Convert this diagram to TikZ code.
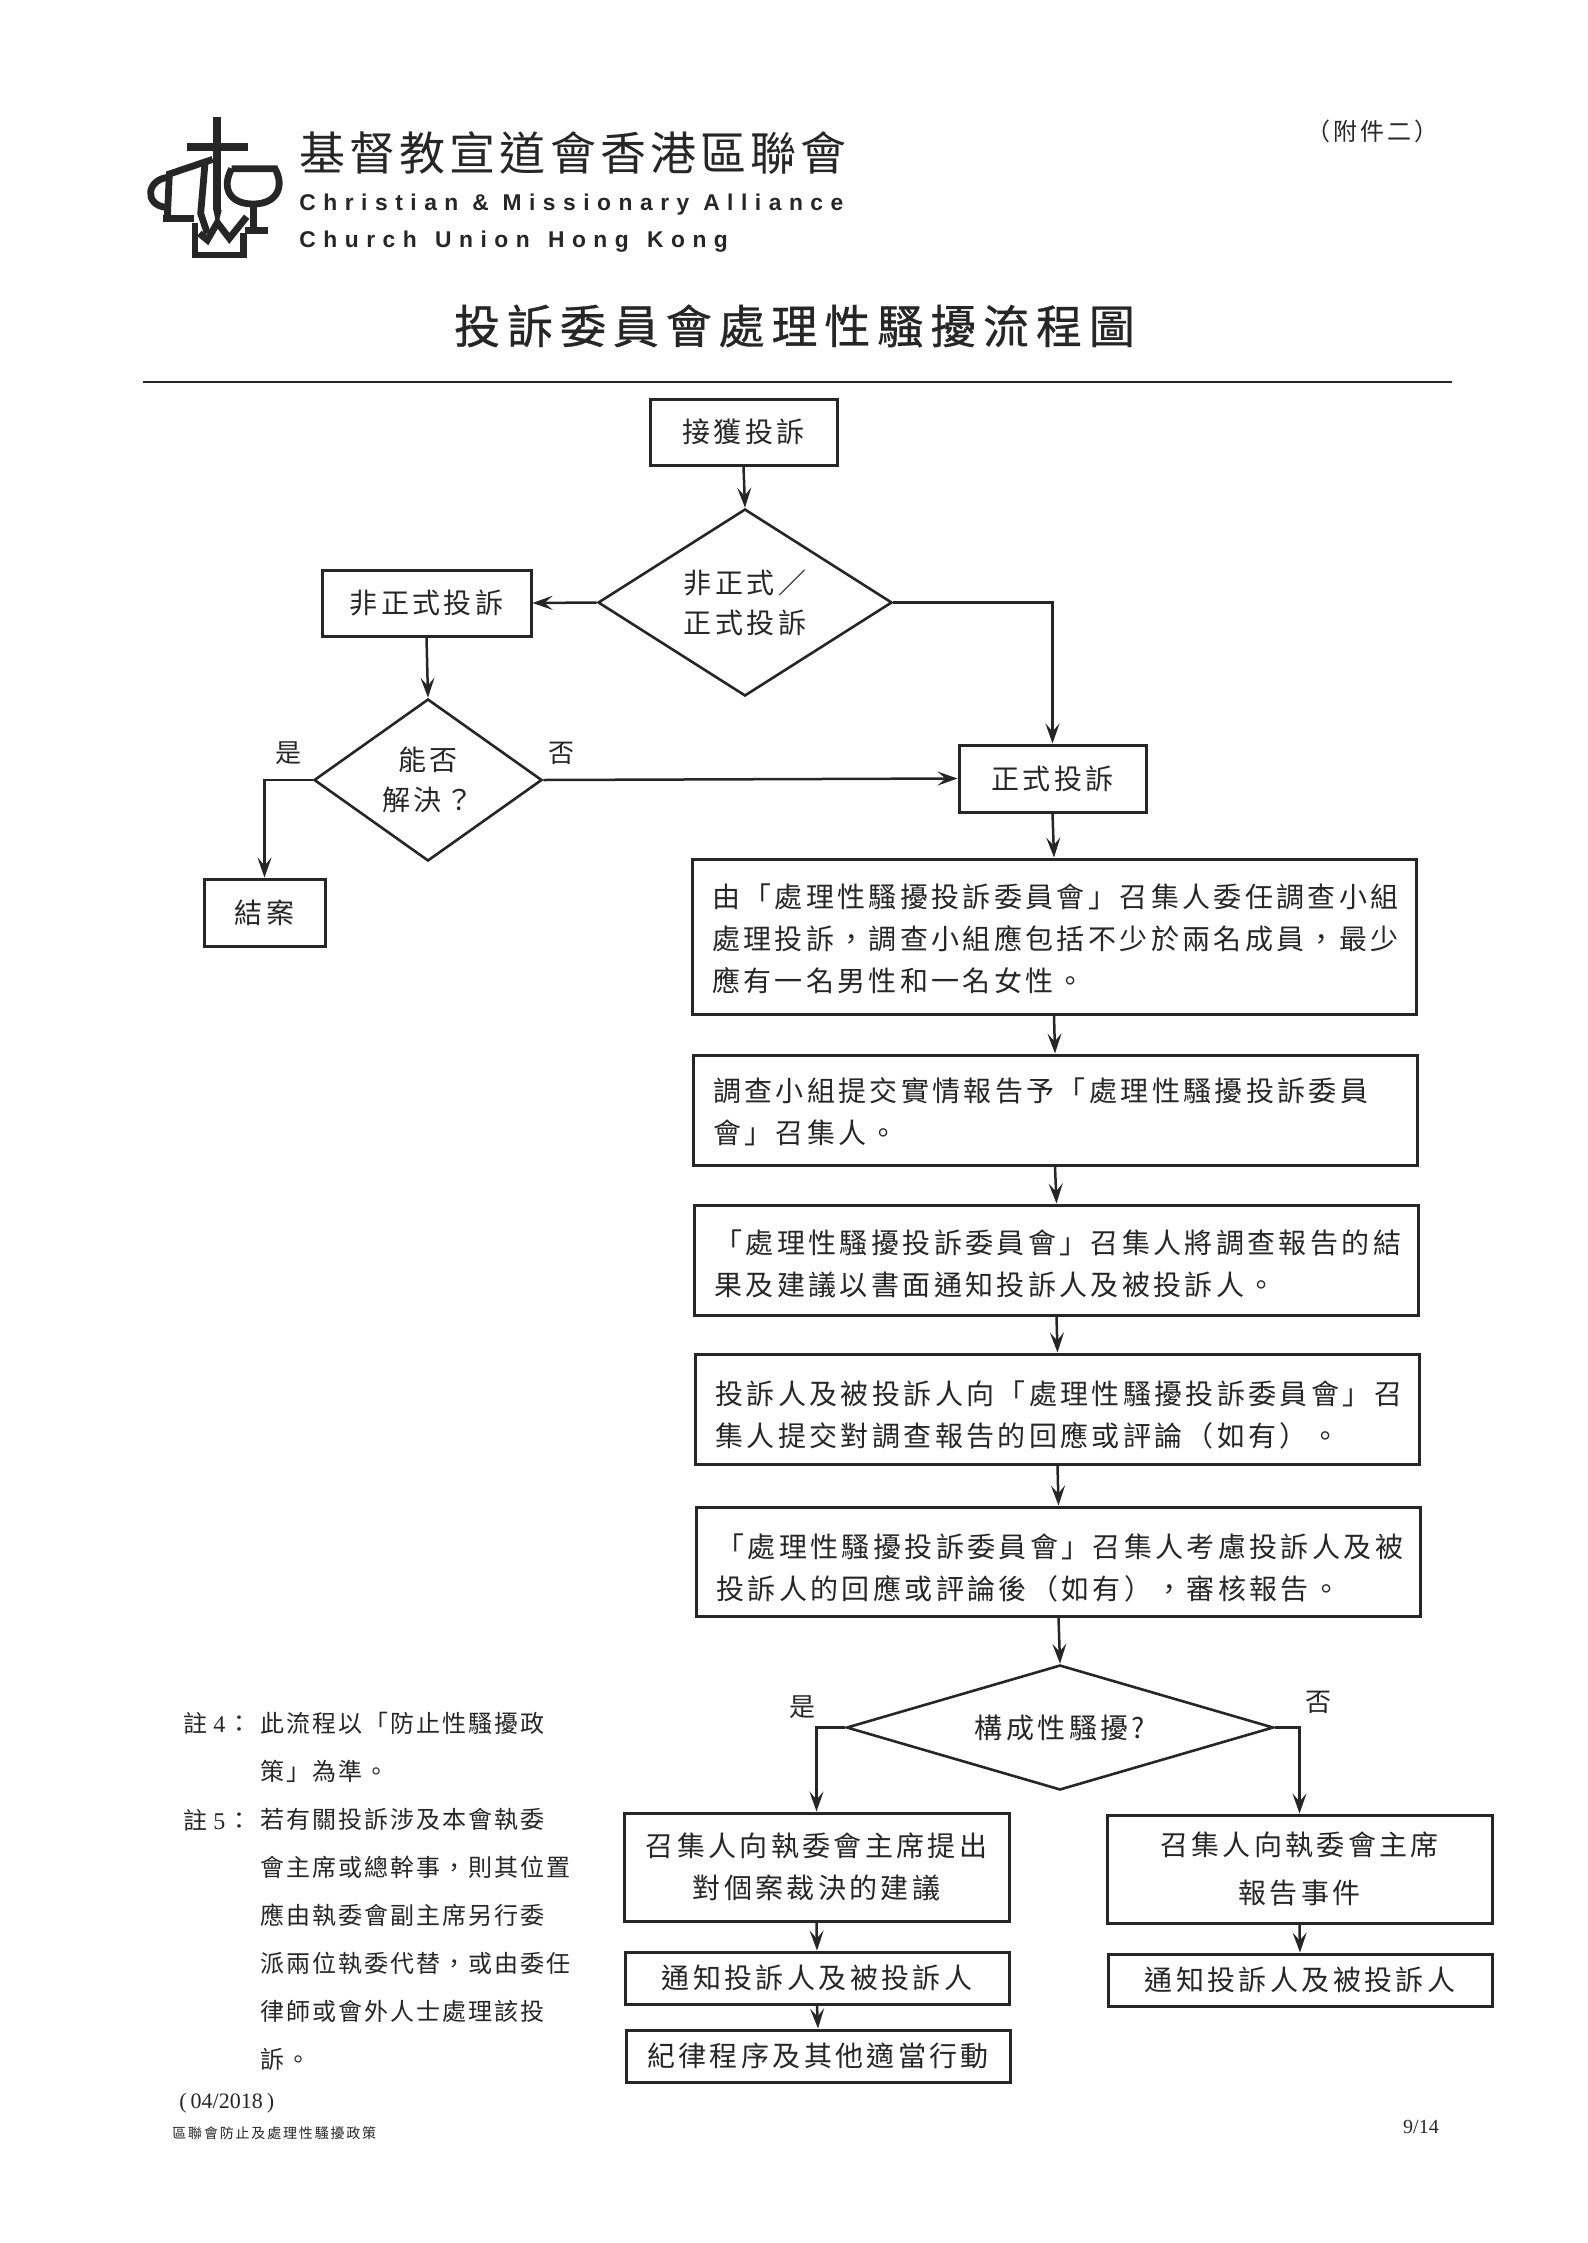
\documentclass[tikz,border=0pt]{standalone}
\usepackage{fontspec}
\setmainfont{Noto Sans CJK TC}
\newfontfamily\boxcjk[LetterSpace=12]{Noto Sans CJK TC}
\newfontfamily\notecjk[LetterSpace=8.3]{Noto Sans CJK TC}
\newfontfamily\titlecjk[LetterSpace=15,FakeBold=0.7]{Noto Sans CJK TC}
\newfontfamily\footcjk[LetterSpace=13]{Noto Sans CJK TC}
\newfontfamily\logocjk[LetterSpace=9]{Noto Sans CJK TC}
\newfontfamily\annexcjk[LetterSpace=12.5]{Noto Sans CJK TC}
\newfontfamily\logolatin[LetterSpace=33]{Liberation Sans}
\newfontfamily\timesnum{Liberation Serif}
\usetikzlibrary{arrows.meta,shapes.geometric}
\definecolor{ink}{HTML}{262626}
\newcommand\wcomma{\char"FF0C\relax}
\newcommand\wopen{\char"FF08\relax}
\newcommand\wclose{\char"FF09\relax}
\newcommand\wslash{\char"FF0F\relax}
\newcommand\wask{\char"FF1F\relax}
\newcommand\wcolon{\char"FF1A\relax}
\newcommand\topgap[1]{\rule{0pt}{#1}}
\tikzset{
  boxtext/.style={font=\boxcjk\fontsize{14}{21}\selectfont,text=ink},
  flowbox/.style={draw=ink,line width=1.5pt,inner sep=0pt,align=center,boxtext},
  longbox/.style={flowbox,align=left,text width=342pt,inner xsep=10pt},
  decision/.style={draw=ink,line width=1.3pt,diamond,inner sep=0pt,align=center,boxtext},
  answer/.style={font=\boxcjk\fontsize{13}{16}\selectfont,text=ink,inner sep=0pt},
  notetext/.style={font=\notecjk\fontsize{12}{24}\selectfont,text=ink,inner sep=0pt,align=left,anchor=west},
  link/.style={draw=ink,line width=1.25pt,-{Stealth[length=10pt,width=7pt,inset=4pt]}},
  logoline/.style={draw=ink,line width=3.4pt,line join=miter}
}
\begin{document}
\begin{tikzpicture}[x=0.5pt,y=-0.5pt]
\useasboundingbox (0,0) rectangle (1587,2243);
% logo
\begin{scope}[shift={(130,100)},x=0.1667pt,y=-0.1667pt]
\draw[logoline,line width=4pt] (262,52)--(262,330);
\draw[logoline,line width=4.4pt] (172,141)--(355,141);
\fill[ink] (250,330)--(275,330)--(262,385)--cycle;
\draw[logoline] (248,178)--(118,222)--(112,352);
\draw[logoline] (98,356)--(192,356);
\draw[logoline] (225,190)--(212,340)--(232,400);
\draw[logoline] (118,232) .. controls (50,235) and (40,315) .. (108,322);
\draw[logoline] (305,206)--(435,206) .. controls (465,260) and (440,312) .. (370,312) .. controls (295,312) and (275,260) .. (305,206);
\draw[logoline] (370,312)--(370,390);
\draw[logoline] (345,392)--(415,392);
\draw[logoline] (195,370)--(195,465)--(340,465)--(340,400);
\draw[logoline] (208,400)--(232,420)--(262,368)--(298,415)--(350,350);
\end{scope}
\node[anchor=west,inner sep=0pt,text=ink,font=\logocjk\fontsize{23}{26}\selectfont] (logocn) at (299,153) {基督教宣道會香港區聯會};
\node[anchor=west,inner sep=0pt,text=ink,font=\logolatin\bfseries\fontsize{11.4}{13}\selectfont] (logoen) at (299,205) {Christian \& Missionary Alliance};
\node[anchor=west,inner sep=0pt,text=ink,font=\logolatin\bfseries\fontsize{11.4}{13}\selectfont] (logohk) at (299,242) {Church\kern2.2pt\ Union\kern2.2pt\ Hong\kern2.2pt\ Kong};
\node[inner sep=0pt,text=ink,font=\annexcjk\fontsize{12}{14}\selectfont] (annex) at (1372,131) {\wopen 附件二\wclose};
\node[inner sep=0pt,text=ink,font=\titlecjk\fontsize{23}{26}\selectfont] (title) at (794.5,326) {投訴委員會處理性騷擾流程圖};
\coordinate (ruleL) at (143,382);
\coordinate (ruleR) at (1452,382);
\draw[ink,line width=1.1pt] (ruleL)--(ruleR);
% flow
\node[flowbox,minimum width=93.5pt,minimum height=33pt] (receive) at (743.5,432) {接獲投訴};
\node[decision,aspect=1.57,minimum width=147pt,minimum height=93.5pt] (kind) at (745,602.5) {非正式\wslash\\[-1pt]正式投訴};
\node[flowbox,minimum width=104.5pt,minimum height=33pt] (informal) at (426.5,603) {非正式投訴};
\node[decision,aspect=1.4,minimum width=114pt,minimum height=81pt] (solve) at (428,780) {能否\\[-1pt]解決\wask};
\node[flowbox,minimum width=93.5pt,minimum height=33.5pt] (formal) at (1052.5,778.5) {正式投訴};
\node[flowbox,minimum width=60.5pt,minimum height=33.5pt] (closed) at (264.5,912.5) {結案};
\node[answer] (solveyes) at (288,753) {是};
\node[answer] (solveno) at (561,753) {否};
\node[longbox,minimum height=77.5pt] (appoint) at (1054,936.5) {\topgap{14.3pt}由「處理性騷擾投訴委員會」召集人委任調查小組\\處理投訴\wcomma 調查小組應包括不少於兩名成員\wcomma 最少\\應有一名男性和一名女性。};
\node[longbox,minimum height=55pt] (report) at (1055,1110) {\topgap{13.8pt}調查小組提交實情報告予「處理性騷擾投訴委員\\會」召集人。};
\node[longbox,minimum height=55pt] (notice) at (1056.5,1260) {\topgap{15.8pt}「處理性騷擾投訴委員會」召集人將調查報告的結\\果及建議以書面通知投訴人及被投訴人。};
\node[longbox,minimum height=55pt] (reply) at (1057.5,1409) {\topgap{17.9pt}投訴人及被投訴人向「處理性騷擾投訴委員會」召\\集人提交對調查報告的回應或評論\wopen 如有\wclose 。};
\node[longbox,minimum height=54.5pt] (review) at (1058.5,1561.5) {\topgap{17.9pt}「處理性騷擾投訴委員會」召集人考慮投訴人及被\\投訴人的回應或評論後\wopen 如有\wclose\wcomma 審核報告。};
\node[decision,aspect=3.4,minimum width=213.5pt,minimum height=62.5pt] (constitute) at (1060,1727.5) {構成性騷擾?};
\node[answer] (yesmark) at (802,1707) {是};
\node[answer] (nomark) at (1318,1702) {否};
\node[flowbox,minimum width=192.5pt,minimum height=54pt] (advise) at (816.5,1867) {召集人向執委會主席提出\\對個案裁決的建議};
\node[flowbox,minimum width=192pt,minimum height=26pt] (tellyes) at (817,1978) {通知投訴人及被投訴人};
\node[flowbox,minimum width=192pt,minimum height=26pt] (discipline) at (818,2056) {紀律程序及其他適當行動};
\node[flowbox,minimum width=192.5pt,minimum height=54pt] (inform) at (1299.5,1869) {召集人向執委會主席\\[3pt]報告事件};
\node[flowbox,minimum width=192pt,minimum height=26pt] (tellno) at (1300,1980) {通知投訴人及被投訴人};
\draw[link] (receive.south)--(kind.north);
\draw[link] (kind.west)--(informal.east);
\draw[link] (kind.east)-|(formal.north);
\draw[link] (informal.south)--(solve.north);
\draw[link] (solve.east)--(formal.west);
\draw[link] (solve.west)-|(closed.north);
\draw[link] (formal.south)--(appoint.north);
\draw[link] (appoint.south)--(report.north);
\draw[link] (report.south)--(notice.north);
\draw[link] (notice.south)--(reply.north);
\draw[link] (reply.south)--(review.north);
\draw[link] (review.south)--(constitute.north);
\draw[link] (constitute.west)-|(advise.north);
\draw[link] (constitute.east)-|(inform.north);
\draw[link] (advise.south)--(tellyes.north);
\draw[link] (tellyes.south)--(discipline.north);
\draw[link] (inform.south)--(tellno.north);
% notes
\node[notetext] (note4) at (183,1723) {註\kern3pt{\timesnum 4}\kern1pt\wcolon};
\node[notetext] (note4body) at (260,1747.5) {此流程以「防止性騷擾政\\策」為準。};
\node[notetext] (note5) at (183,1820) {註\kern3pt{\timesnum 5}\kern1pt\wcolon};
\node[notetext] (note5body) at (260,1939.5) {若有關投訴涉及本會執委\\會主席或總幹事\wcomma 則其位置\\應由執委會副主席另行委\\派兩位執委代替\wcomma 或由委任\\律師或會外人士處理該投\\訴。};
\node[anchor=west,inner sep=0pt,text=ink,font=\timesnum\fontsize{11}{13}\selectfont] (issue) at (179,2103) {(\kern2pt 04/2018\kern2pt)};
\node[anchor=west,inner sep=0pt,text=ink,font=\footcjk\fontsize{7}{9}\selectfont] (footer) at (172,2133) {區聯會防止及處理性騷擾政策};
\node[inner sep=0pt,text=ink,font=\timesnum\fontsize{10}{12}\selectfont] (page) at (1421,2127) {9/14};
\end{tikzpicture}
\end{document}
